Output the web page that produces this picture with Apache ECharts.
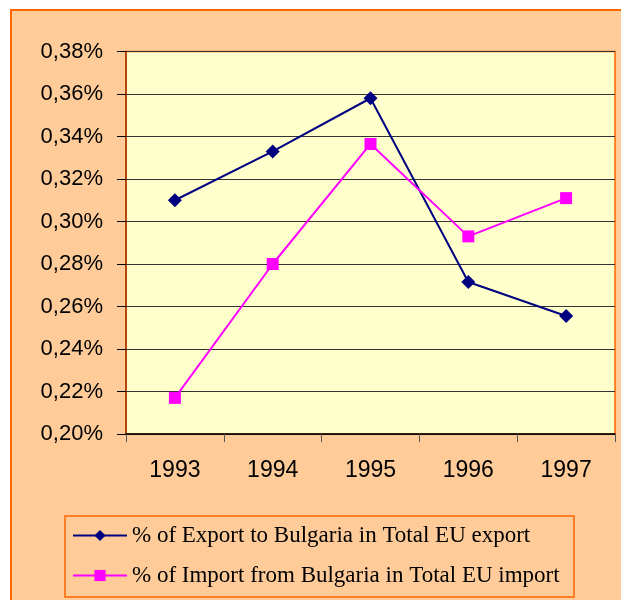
<!DOCTYPE html>
<html>
<head>
<meta charset="utf-8">
<script src="https://cdn.jsdelivr.net/npm/echarts@6/dist/echarts.min.js"></script>
<style>
  html, body { margin: 0; padding: 0; background: #fff; }
  #chart { width: 621px; height: 600px; }
</style>
</head>
<body>
<div id="chart"></div>
<script>
  // values, in percent
  const years = ['1993', '1994', '1995', '1996', '1997']
  const exportShare = [0.310, 0.333, 0.358, 0.2715, 0.2555]
  const importShare = [0.217, 0.280, 0.3365, 0.293, 0.311]
  const seriesNames = ['% of Export to Bulgaria in Total EU export', '% of Import from Bulgaria in Total EU import']

  const chart = echarts.init(document.getElementById('chart'))

  const option = {
    animation: false,
    backgroundColor: '#fff',
    graphic: [{
      type: 'rect',
      z: -10,
      shape: { x: 11, y: 10, width: 660, height: 650 },
      style: { fill: '#FFCC99', stroke: '#FF6600', lineWidth: 2 }
    }, {
      type: 'rect',
      z: -5,
      shape: { x: 65, y: 516, width: 509, height: 81 },
      style: { fill: 'none', stroke: '#FF6600', lineWidth: 1.5 }
    }],
    grid: {
      left: 126,
      top: 51.5,
      width: 489,
      height: 382.5,
      show: true,
      backgroundColor: '#FFFFCC',
      borderColor: '#FF6600',
      borderWidth: 1.5
    },
    legend: {
      orient: 'vertical',
      left: 67,
      top: 519,
      itemWidth: 54,
      itemHeight: 14,
      itemGap: 17,
      data: seriesNames,
      textStyle: {
        fontFamily: 'Liberation Serif',
        fontSize: 23,
        color: '#000',
        lineHeight: 22
      }
    },
    xAxis: [{
      type: 'category',
      data: years,
      boundaryGap: true,
      axisLine: { lineStyle: { color: '#000', width: 1.5 } },
      axisTick: { show: true, length: 8, lineStyle: { color: '#555' } },
      axisLabel: {
        margin: 25,
        color: '#000',
        fontFamily: 'Liberation Sans',
        fontSize: 23
      }
    }],
    yAxis: [{
      type: 'value',
      min: 0.20,
      max: 0.38,
      interval: 0.02,
      axisLine: { show: true, lineStyle: { color: '#993300', width: 1.5 } },
      axisTick: { show: true, length: 9, lineStyle: { color: '#000' } },
      axisLabel: {
        margin: 23,
        color: '#000',
        fontFamily: 'Liberation Sans',
        fontSize: 22,
        formatter: function (v) {
          return v.toFixed(2).replace('.', ',') + '%'
        }
      },
      splitLine: {
        lineStyle: { color: '#333', width: 1.2 }
      }
    }],
    series: [{
      name: seriesNames[0],
      type: 'line',
      data: exportShare,
      symbol: 'diamond',
      symbolSize: 14,
      lineStyle: { color: '#000080', width: 2 },
      itemStyle: { color: '#000080' }
    }, {
      name: seriesNames[1],
      type: 'line',
      data: importShare,
      symbol: 'rect',
      symbolSize: 12,
      lineStyle: { color: '#FF00FF', width: 2 },
      itemStyle: { color: '#FF00FF' }
    }]
  }

  chart.setOption(option, true)
</script>
</body>
</html>
